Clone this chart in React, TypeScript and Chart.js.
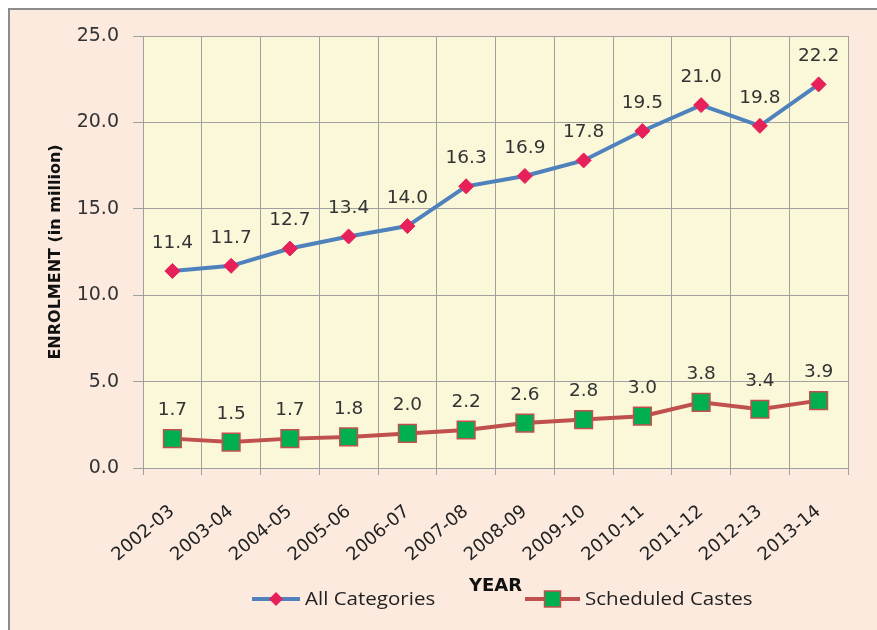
import React, { useEffect, useRef } from "react";
import { Chart, registerables } from "chart.js";

Chart.register(...registerables);

const years = ["2002-03", "2003-04", "2004-05", "2005-06", "2006-07", "2007-08", "2008-09", "2009-10", "2010-11", "2011-12", "2012-13", "2013-14"];
const allCategories = [11.4, 11.7, 12.7, 13.4, 14.0, 16.3, 16.9, 17.8, 19.5, 21.0, 19.8, 22.2];
const scheduledCastes = [1.7, 1.5, 1.7, 1.8, 2.0, 2.2, 2.6, 2.8, 3.0, 3.8, 3.4, 3.9];
const seriesNames = ["All Categories", "Scheduled Castes"];

const W = 867;
const H = 620;

export default function App() {
  const ref = useRef<HTMLCanvasElement | null>(null);
  useEffect(() => {
    if (!ref.current) return;
    Chart.defaults.font.family = "'DejaVu Sans', Verdana, sans-serif";
    const plotBg = {
      id: "plotBg",
      beforeDraw(chart: any) {
        const { ctx, chartArea: a } = chart;
        ctx.save();
        ctx.fillStyle = "#FCEADF";
        ctx.fillRect(0, 0, chart.width, chart.height);
        ctx.fillStyle = "#FAF8D9";
        ctx.fillRect(a.left, a.top, a.right - a.left, a.bottom - a.top);
        ctx.restore();
      },
    };
    const labels = {
      id: "valueLabels",
      afterDatasetsDraw(chart: any) {
        const ctx = chart.ctx;
        ctx.save();
        ctx.font = "18.5px 'DejaVu Sans'";
        ctx.fillStyle = "#333333";
        ctx.textAlign = "center";
        ctx.textBaseline = "middle";
        chart.data.datasets.forEach((ds: any, i: number) => {
          const meta = chart.getDatasetMeta(i);
          meta.data.forEach((pt: any, j: number) => {
            ctx.fillText(Number(ds.data[j]).toFixed(1), pt.x, pt.y - 28);
          });
        });
        ctx.restore();
      },
    };
    const legend = {
      id: "customLegend",
      afterDraw(chart: any) {
        const ctx = chart.ctx;
        const y = 589;
        const items = [
          { x0: 242, x1: 290, color: "#4F81BD", marker: "diamond", text: seriesNames[0] },
          { x0: 515, x1: 570, color: "#C0504D", marker: "square", text: seriesNames[1] },
        ];
        ctx.save();
        items.forEach((it) => {
          ctx.strokeStyle = it.color;
          ctx.lineWidth = 4;
          ctx.beginPath();
          ctx.moveTo(it.x0, y);
          ctx.lineTo(it.x1, y);
          ctx.stroke();
          const cx = (it.x0 + it.x1) / 2;
          if (it.marker === "diamond") {
            ctx.fillStyle = "#E8205A";
            ctx.beginPath();
            ctx.moveTo(cx, y - 7);
            ctx.lineTo(cx + 7, y);
            ctx.lineTo(cx, y + 7);
            ctx.lineTo(cx - 7, y);
            ctx.closePath();
            ctx.fill();
          } else {
            ctx.fillStyle = "#00B050";
            ctx.strokeStyle = "#C0504D";
            ctx.lineWidth = 1.5;
            ctx.fillRect(cx - 8, y - 8, 16, 16);
            ctx.strokeRect(cx - 8, y - 8, 16, 16);
          }
          ctx.save();
          ctx.translate(it.x1 + 5, y + 1);
          ctx.scale(1.14, 1);
          ctx.fillStyle = "#222222";
          ctx.font = "18px 'Open Sans'";
          ctx.textAlign = "left";
          ctx.textBaseline = "middle";
          ctx.fillText(it.text, 0, 0);
          ctx.restore();
        });
        ctx.restore();
      },
    };
    const chart = new Chart(ref.current, {
      type: "line",
      data: {
        labels: years,
        datasets: [
          {
            label: seriesNames[0],
            data: allCategories,
            borderColor: "#4F81BD",
            borderWidth: 4,
            pointStyle: "rectRot",
            pointRadius: 7.5,
            pointBackgroundColor: "#E8205A",
            pointBorderColor: "#E8205A",
            pointBorderWidth: 1,
            tension: 0,
          },
          {
            label: seriesNames[1],
            data: scheduledCastes,
            borderColor: "#C0504D",
            borderWidth: 4,
            pointStyle: "rect",
            pointRadius: 12.5,
            pointBackgroundColor: "#00B050",
            pointBorderColor: "#C0504D",
            pointBorderWidth: 1.5,
            tension: 0,
          },
        ],
      },
      options: {
        responsive: false,
        animation: false,
        layout: { padding: { left: 30, right: 29, top: 26, bottom: 33 } },
        plugins: { legend: { display: false }, tooltip: { enabled: false } },
        scales: {
          x: {
            offset: true,
            grid: { offset: true, color: "#A0A0A0", lineWidth: 1, tickLength: 7, tickColor: "#A0A0A0" },
            border: { color: "#A0A0A0" },
            ticks: { color: "#222222", font: { size: 18 }, maxRotation: 40, minRotation: 40, padding: 26 },
            title: { display: true, text: "YEAR", color: "#111111", font: { size: 18, weight: "bold" }, padding: { top: 0, bottom: 0 } },
            afterFit(scale: any) {
              scale.height = 129;
            },
          },
          y: {
            min: 0,
            max: 25,
            grid: { color: "#A0A0A0", lineWidth: 1, tickLength: 10, tickColor: "#A0A0A0" },
            border: { color: "#A0A0A0" },
            ticks: { stepSize: 5, color: "#333333", font: { size: 19 }, padding: 14, callback: (v: any) => Number(v).toFixed(1) },
            title: { display: true, text: "ENROLMENT (in million)", color: "#111111", font: { size: 16, weight: "bold" }, padding: { top: 6, bottom: 0 } },
            afterFit(scale: any) {
              scale.width = 103;
            },
          },
        },
      },
      plugins: [plotBg, labels, legend],
    } as any);
    return () => chart.destroy();
  }, []);
  return (
    <div
      style={{
        position: "fixed",
        left: 8,
        top: 8,
        borderTop: "2px solid #8C8C8C",
        borderLeft: "2px solid #8C8C8C",
        background: "#FCEADF",
        width: W,
        height: H,
      }}
    >
      <canvas ref={ref} width={W} height={H} style={{ display: "block", width: W, height: H }} />
    </div>
  );
}
